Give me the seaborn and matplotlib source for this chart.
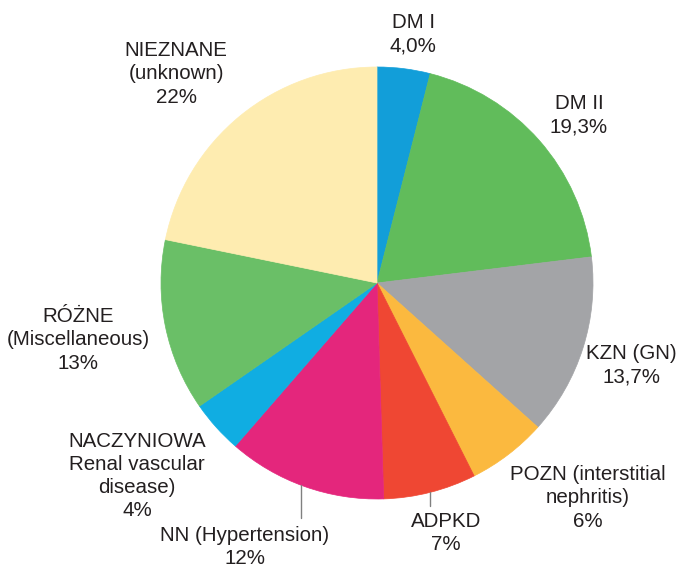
import numpy as np
import matplotlib
matplotlib.use("Agg")
import matplotlib.pyplot as plt
import seaborn as sns

sns.set_theme(style="white")
plt.rcParams['font.family'] = ['Liberation Sans', 'DejaVu Sans']

# data
labels = ['DM I', 'DM II', 'KZN (GN)', 'POZN (interstitial\nnephritis)', 'ADPKD',
          'NN (Hypertension)', 'NACZYNIOWA\nRenal vascular\ndisease)', 'RÓŻNE\n(Miscellaneous)',
          'NIEZNANE\n(unknown)']
values = [4.0, 19.3, 13.7, 6, 7, 12, 4, 13, 22]
pct_text = ['4,0%', '19,3%', '13,7%', '6%', '7%', '12%', '4%', '13%', '22%']
colors = ['#129ed9', '#61bc5b', '#a3a4a7', '#fbb93f', '#ef4733',
          '#e4267c', '#10ade2', '#6abf67', '#feecb0']

# label centres in pixels (layout only)
label_px = [(413, 34), (579, 115), (631, 365), (588, 498), (446, 533),
            (245, 547), (137, 476), (78, 340), (176, 74)]
# leader lines: index -> angle on the rim (deg), end y pixel
leaders = {4: (-75.8, 506), 5: (-110.6, 518)}

W, H = 690, 567
CX, CY, R = 377, 283, 216

fig = plt.figure(figsize=(W / 100, H / 100), dpi=100)
ax = fig.add_axes([0, 0, 1, 1])
wedges, _ = ax.pie(values, colors=colors, startangle=90, counterclock=False, radius=1)
for w, c in zip(wedges, colors):
    w.set_edgecolor(c)
    w.set_linewidth(0.5)
ax.set_xlim(-CX / R, (W - CX) / R)
ax.set_ylim(-(H - CY) / R, CY / R)
ax.set_aspect('equal')
ax.axis('off')

def to_data(px, py):
    return (px - CX) / R, (CY - py) / R

for i, (lab, pct) in enumerate(zip(labels, pct_text)):
    x, y = to_data(*label_px[i])
    ax.text(x, y, lab + '\n' + pct, ha='center', va='center', fontsize=14.8,
            color='#231f20', linespacing=1.27)

for i, (ang, end_py) in leaders.items():
    a = np.deg2rad(ang)
    x0, y0 = np.cos(a), np.sin(a)
    _, y1 = to_data(0, end_py)
    ax.plot([x0, x0], [y0, y1], color='#808080', linewidth=1.0)

fig.savefig('out.png', dpi=100)
